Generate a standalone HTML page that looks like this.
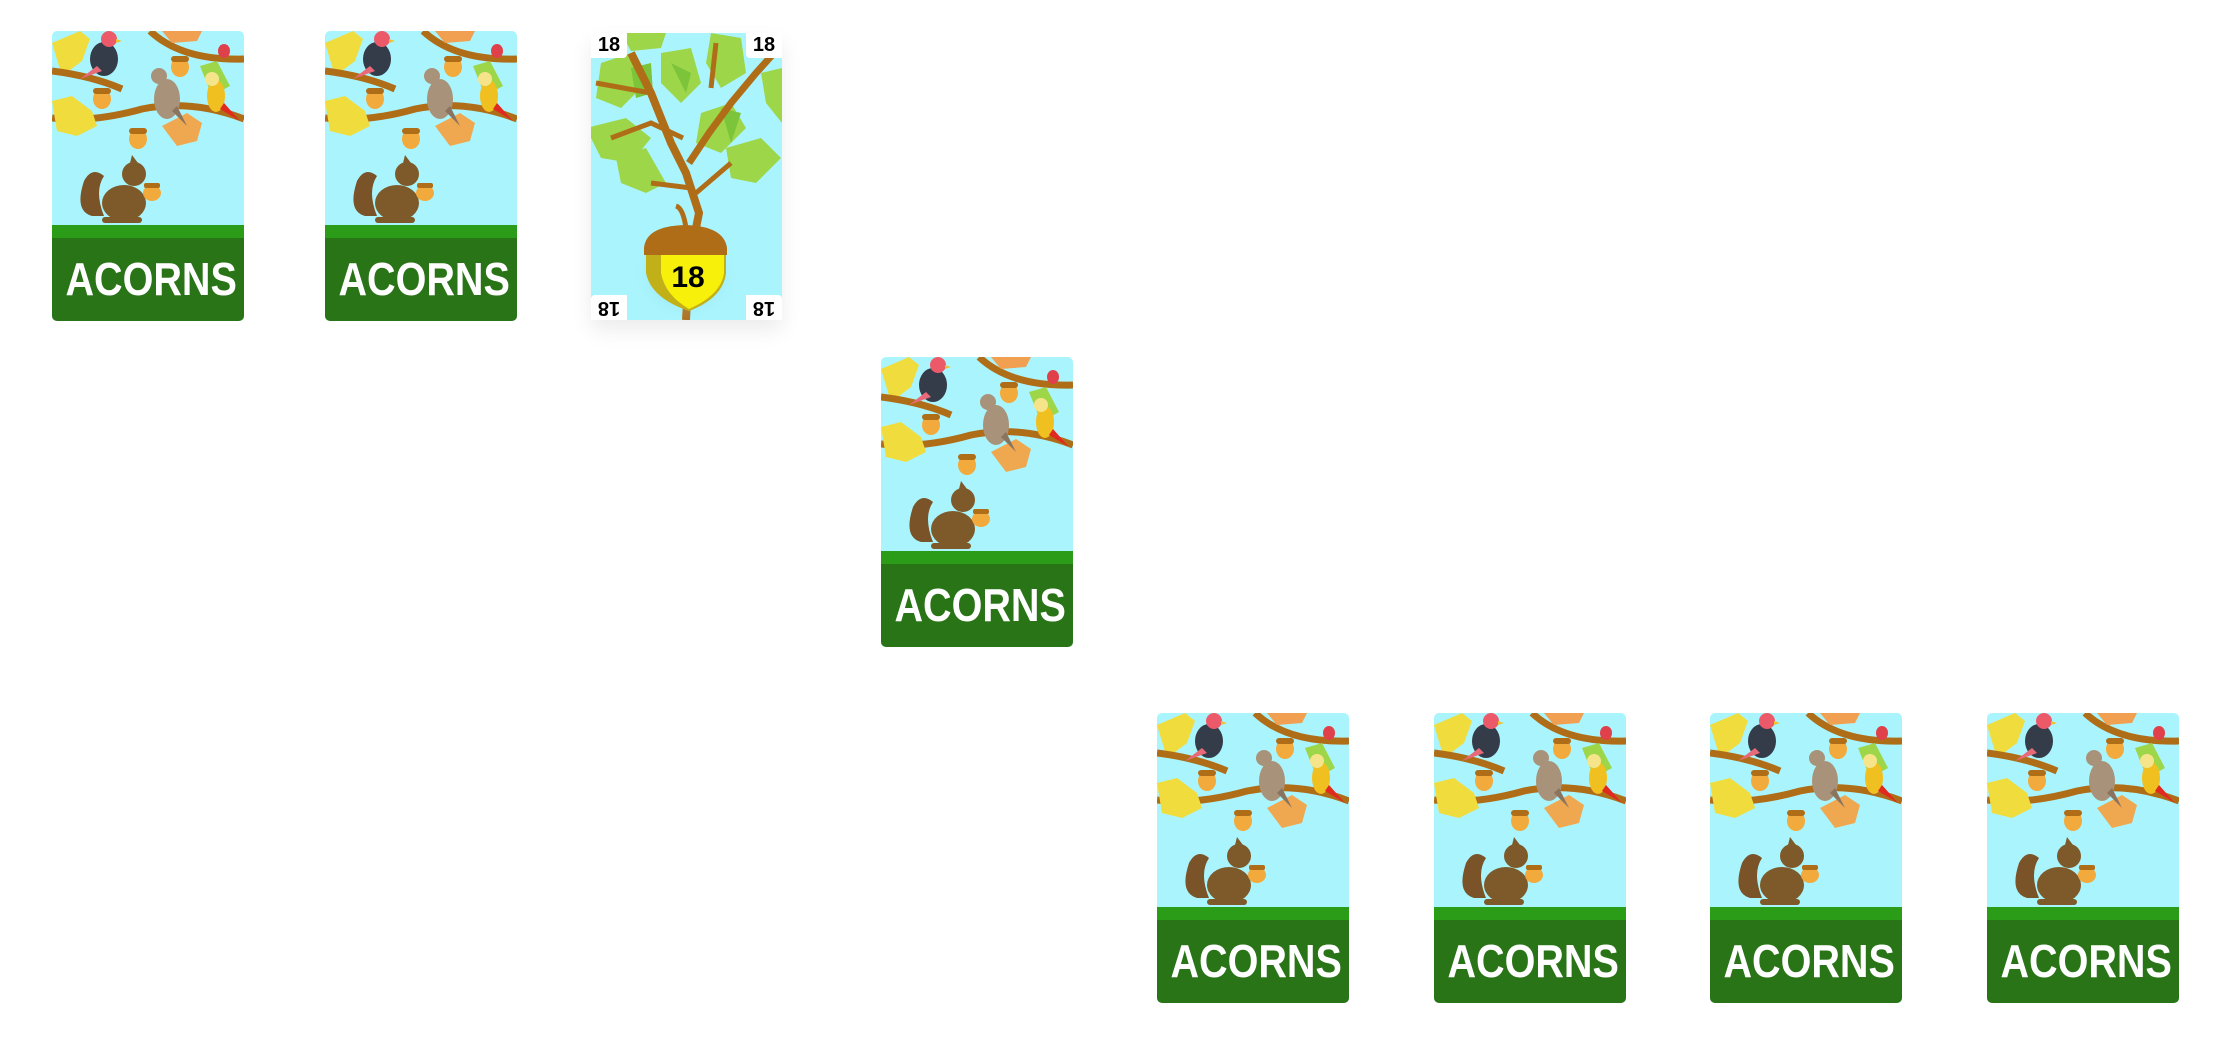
<!DOCTYPE html>
<html><head><meta charset="utf-8"><style>
html,body{margin:0;padding:0;background:#fff;width:2228px;height:1050px;overflow:hidden;position:relative;font-family:"Liberation Sans",sans-serif}
.card{position:absolute;width:192px;height:290px;border-radius:5px;overflow:hidden;background:#aaf5fd}
.card svg{position:absolute;left:0;top:0}
.grass{position:absolute;left:0;top:194px;width:192px;height:13px;background:#2a9c17}
.label{position:absolute;left:0;top:207px;width:192px;height:83px;background:#287416}
.label span{position:absolute;left:0;top:20px;width:192px;text-align:center;color:#fff;font-weight:bold;font-size:46px;line-height:42px;transform:scaleX(0.86);transform-origin:center}
.tree{position:absolute;left:591px;top:33px;width:191px;height:287px;background:#aaf5fd;box-shadow:0 10px 20px rgba(0,0,0,0.08)}
.corner{position:absolute;width:36px;height:25px;background:#fff;font-weight:bold;font-size:20px;line-height:25px;text-align:center;color:#000}
</style></head><body>
<svg width="0" height="0" style="position:absolute">
<defs>
<symbol id="scene" viewBox="0 0 192 290">
<path d="M0 12 L28 0 L38 8 L30 30 L10 45 Z" fill="#f0dc3c"/>
<path d="M98 0 Q130 30 192 28" stroke="#b06d18" stroke-width="7" fill="none"/>
<path d="M110 0 L150 0 L145 10 L120 12 Z" fill="#f0a050"/>
<path d="M0 40 Q40 45 70 58" stroke="#b06d18" stroke-width="7" fill="none"/>
<path d="M0 87 Q40 92 90 78 Q140 68 192 88" stroke="#b06d18" stroke-width="7" fill="none"/>
<path d="M0 70 L20 65 L40 80 L45 95 L25 105 L5 100 Z" fill="#f0dc3c"/>
<path d="M110 95 L135 82 L150 92 L145 110 L125 115 Z" fill="#f0a850"/>
<path d="M148 35 L165 30 L178 55 L160 65 Z" fill="#9ed64a"/>
<ellipse cx="50" cy="68" rx="9" ry="10" fill="#f2aa3c"/>
<rect x="41" y="57" width="18" height="6" rx="3" fill="#b06d18"/>
<ellipse cx="86" cy="108" rx="9" ry="10" fill="#f2aa3c"/>
<rect x="77" y="97" width="18" height="6" rx="3" fill="#b06d18"/>
<ellipse cx="128" cy="36" rx="9" ry="10" fill="#f2aa3c"/>
<rect x="119" y="25" width="18" height="6" rx="3" fill="#b06d18"/>
<ellipse cx="172" cy="20" rx="6" ry="7" fill="#e0404a"/>
<ellipse cx="52" cy="28" rx="14" ry="17" fill="#343c4a"/>
<circle cx="57" cy="8" r="8" fill="#ec5a6a"/>
<path d="M45 35 L28 48 L50 40 Z" fill="#e86a78"/>
<path d="M64 8 L70 10 L64 12 Z" fill="#f0c030"/>
<ellipse cx="115" cy="68" rx="13" ry="20" fill="#a8927a"/>
<circle cx="107" cy="45" r="8" fill="#a8927a"/>
<path d="M120 80 L135 95 L125 75 Z" fill="#8a7460"/>
<ellipse cx="164" cy="65" rx="9" ry="16" fill="#f0c020"/>
<circle cx="160" cy="48" r="7" fill="#f6e48a"/>
<path d="M168 78 L188 90 L172 72 Z" fill="#e02a20"/>
<path d="M40 185 Q22 180 32 150 Q40 135 52 145 Q42 160 52 185 Z" fill="#7a5428"/>
<ellipse cx="72" cy="172" rx="22" ry="18" fill="#7e5a2a"/>
<circle cx="82" cy="143" r="12" fill="#7e5a2a"/>
<path d="M78 132 L80 124 L86 132 Z" fill="#7e5a2a"/>
<rect x="50" y="186" width="40" height="6" rx="3" fill="#7e5a2a"/>
<ellipse cx="100" cy="162" rx="9" ry="8" fill="#f2aa3c"/>
<rect x="92" y="152" width="16" height="5" rx="2" fill="#b06d18"/>
</symbol>
</defs>
</svg>

<div class="card" style="left:52px;top:31px"><svg width="192" height="290"><use href="#scene" width="192" height="290"/></svg><div class="grass"></div><div class="label"><span>ACORNS</span></div></div>
<div class="card" style="left:325px;top:31px"><svg width="192" height="290"><use href="#scene" width="192" height="290"/></svg><div class="grass"></div><div class="label"><span>ACORNS</span></div></div>

<div class="tree">
<svg width="191" height="287" viewBox="0 0 191 287">
<defs><radialGradient id="sh" cx="0.5" cy="0.5" r="0.5"><stop offset="0" stop-color="#3a8a9a" stop-opacity="0.5"/><stop offset="1" stop-color="#aaf5fd" stop-opacity="0"/></radialGradient></defs>
<g fill="#9ed64a">
<path d="M10 30 L40 20 L55 50 L30 75 L5 65 Z"/><path d="M70 20 L100 15 L110 50 L90 70 L70 50 Z"/>
<path d="M120 0 L150 5 L155 40 L130 55 L115 30 Z"/><path d="M-5 95 L35 85 L60 105 L40 130 L10 125 Z"/>
<path d="M25 125 L55 115 L75 150 L55 160 L30 150 Z"/><path d="M110 80 L140 70 L155 95 L130 120 L105 110 Z"/>
<path d="M135 115 L170 105 L190 125 L165 150 L140 145 Z"/><path d="M170 40 L191 35 L191 90 L175 70 Z"/>
<path d="M30 0 L75 0 L70 15 L40 18 Z"/>
</g>
<g fill="#7cc43a"><path d="M40 35 L60 30 L62 60 L45 65 Z"/><path d="M130 75 L150 80 L140 110 Z"/><path d="M80 30 L100 40 L95 60 Z"/></g>
<path d="M95 287 L98 230 L108 180 L95 140 L80 110 L60 60 L40 20" stroke="#b06d18" stroke-width="8" fill="none"/>
<path d="M98 130 L118 100 L140 70 L165 40 L183 20" stroke="#b06d18" stroke-width="7" fill="none"/>
<path d="M92 105 L60 90 L20 105 M105 160 L140 130 M100 155 L60 150 M120 55 L125 10 M60 60 L5 50" stroke="#b06d18" stroke-width="5" fill="none"/>
<ellipse cx="95" cy="240" rx="55" ry="50" fill="url(#sh)"/>
<path d="M85 173 Q92 175 95 195" stroke="#b06d18" stroke-width="5" fill="none"/>
<path d="M55 220 L55 240 Q60 265 98 278 Q132 265 135 240 L135 220 Z" fill="#c2b018"/>
<path d="M70 220 L70 240 Q74 262 98 276 Q130 262 133 240 L133 220 Z" fill="#f6f00a"/>
<path d="M53 215 Q55 193 94 192 Q133 193 136 215 L136 222 L53 222 Z" fill="#b06d18"/>
</svg>
<div style="position:absolute;left:56px;top:228px;width:82px;text-align:center;font-weight:bold;font-size:30px;color:#000">18</div>
<div class="corner" style="left:0;top:0;border-bottom-right-radius:4px">18</div>
<div class="corner" style="right:0;top:0;border-bottom-left-radius:4px">18</div>
<div class="corner" style="left:0;bottom:0;transform:rotate(180deg);border-bottom-right-radius:4px">18</div>
<div class="corner" style="right:0;bottom:0;transform:rotate(180deg);border-bottom-left-radius:4px">18</div>
</div>

<div class="card" style="left:881px;top:357px"><svg width="192" height="290"><use href="#scene" width="192" height="290"/></svg><div class="grass"></div><div class="label"><span>ACORNS</span></div></div>

<div class="card" style="left:1157px;top:713px"><svg width="192" height="290"><use href="#scene" width="192" height="290"/></svg><div class="grass"></div><div class="label"><span>ACORNS</span></div></div>
<div class="card" style="left:1434px;top:713px"><svg width="192" height="290"><use href="#scene" width="192" height="290"/></svg><div class="grass"></div><div class="label"><span>ACORNS</span></div></div>
<div class="card" style="left:1710px;top:713px"><svg width="192" height="290"><use href="#scene" width="192" height="290"/></svg><div class="grass"></div><div class="label"><span>ACORNS</span></div></div>
<div class="card" style="left:1987px;top:713px"><svg width="192" height="290"><use href="#scene" width="192" height="290"/></svg><div class="grass"></div><div class="label"><span>ACORNS</span></div></div>
</body></html>
